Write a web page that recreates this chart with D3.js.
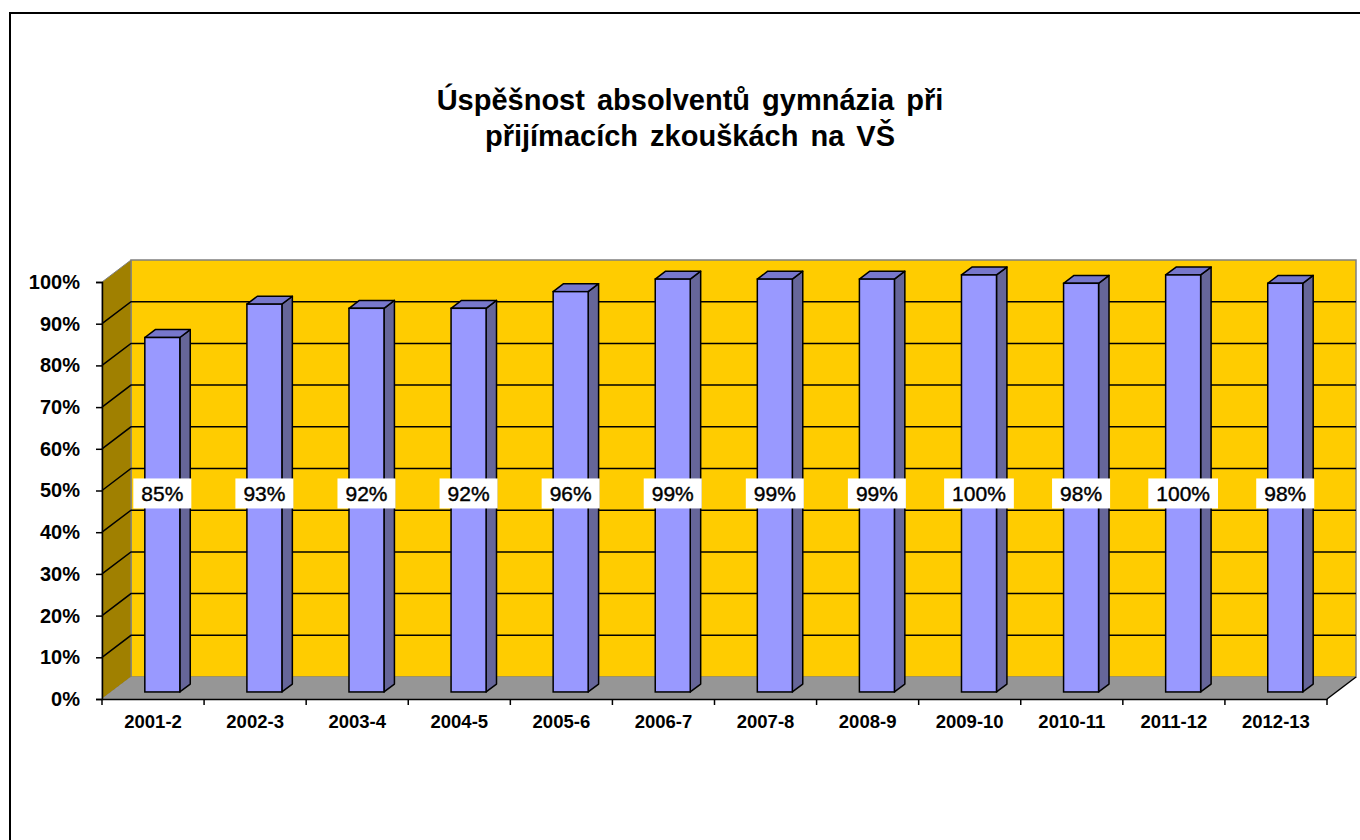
<!DOCTYPE html>
<html>
<head>
<meta charset="utf-8">
<script src="https://cdn.jsdelivr.net/npm/d3@7"></script>
<style>
  body { margin: 0; background: #fff; }
  svg { display: block; font-family: "Liberation Sans", Arial, sans-serif; }
</style>
</head>
<body>
<svg id="chart" width="1360" height="840"></svg>
<script>
// data
const years = ['2001-2', '2002-3', '2003-4', '2004-5', '2005-6', '2006-7',
               '2007-8', '2008-9', '2009-10', '2010-11', '2011-12', '2012-13'];
const success = [0.85, 0.93, 0.92, 0.92, 0.96, 0.99, 0.99, 0.99, 1.00, 0.98, 1.00, 0.98];
const yTicks = [0, 0.1, 0.2, 0.3, 0.4, 0.5, 0.6, 0.7, 0.8, 0.9, 1.0];
const titleLines = ['Úspěšnost absolventů gymnázia při', 'přijímacích zkouškách na VŠ'];

const svg = d3.select('#chart');
const W = 1360, H = 840;

// frame round the chart area
svg.append('rect')
  .attr('x', 10).attr('y', 13)
  .attr('width', W + 20).attr('height', H + 20)
  .attr('fill', '#fff').attr('stroke', '#000').attr('stroke-width', 2);

// title
svg.append('text')
  .attr('x', 690).attr('y', 110)
  .attr('text-anchor', 'middle')
  .attr('font-size', 29).attr('font-weight', 'bold')
  .attr('word-spacing', 4)
  .selectAll('tspan')
  .data(titleLines)
  .join('tspan')
    .attr('x', 690)
    .attr('dy', (d, i) => i === 0 ? 0 : 36)
    .text(d => d);

// scales for the front plane
const x = d3.scaleBand().domain(years).range([102, 1327]);
const y = d3.scaleLinear().domain([0, 1]).range([699, 282]);

// 3D depth offsets
const DX = 29, DY = -22;           // full depth of the box
const fz = 0.32, bz = 0.36;        // bar front position and bar depth as fractions
const barW = 35;

const x0 = x.range()[0], x1 = x.range()[1];
const yTop = y(1), yBot = y(0);
const pts = a => a.map(p => p.join(',')).join(' ');

// back wall
svg.append('polygon')
  .attr('points', pts([[x0 + DX, yTop + DY], [x1 + DX, yTop + DY], [x1 + DX, yBot + DY], [x0 + DX, yBot + DY]]))
  .attr('fill', '#FFCC00').attr('stroke', '#808080').attr('stroke-width', 1.5);

// side wall
svg.append('polygon')
  .attr('points', pts([[x0, yBot], [x0, yTop], [x0 + DX, yTop + DY], [x0 + DX, yBot + DY]]))
  .attr('fill', '#A08000').attr('stroke', '#808080').attr('stroke-width', 1);

// floor
svg.append('polygon')
  .attr('points', pts([[x0, yBot], [x1, yBot], [x1 + DX, yBot + DY], [x0 + DX, yBot + DY]]))
  .attr('fill', '#969696').attr('stroke', 'none');
svg.append('line')
  .attr('x1', x1).attr('y1', yBot).attr('x2', x1 + DX).attr('y2', yBot + DY)
  .attr('stroke', '#000').attr('stroke-width', 1.5);

// gridlines on side wall and back wall
const grid = svg.append('g').attr('stroke', '#000').attr('stroke-width', 1.5).attr('fill', 'none');
yTicks.filter(t => t > 0 && t < 1).forEach(t => {
  grid.append('polyline')
    .attr('points', pts([[x0, y(t)], [x0 + DX, y(t) + DY], [x1 + DX, y(t) + DY]]));
});

// axes
const yAxis = svg.append('g')
  .attr('transform', `translate(${x0},0)`)
  .call(d3.axisLeft(y).tickValues(yTicks).tickFormat(d3.format('.0%')).tickSize(6).tickPadding(16));
yAxis.select('.domain').attr('stroke', '#000').attr('stroke-width', 1.5);
yAxis.selectAll('.tick line').attr('stroke', '#000').attr('stroke-width', 1.5);
yAxis.selectAll('text')
  .attr('font-size', 20).attr('font-weight', 'bold').attr('fill', '#000')
  .attr('font-family', '"Liberation Sans", Arial, sans-serif');

const xAxis = svg.append('g')
  .attr('transform', `translate(0,${yBot})`)
  .call(d3.axisBottom(x).tickSize(0).tickPadding(16));
xAxis.select('.domain').attr('stroke', '#000').attr('stroke-width', 1.5);
xAxis.selectAll('text')
  .attr('font-size', 18.5).attr('font-weight', 'bold').attr('fill', '#000')
  .attr('font-family', '"Liberation Sans", Arial, sans-serif');
// tick marks at category boundaries
xAxis.selectAll('.bound')
  .data(years.map(d => x(d)).concat([x1]))
  .join('line')
    .attr('class', 'bound')
    .attr('x1', d => d).attr('x2', d => d)
    .attr('y1', 0).attr('y2', 6)
    .attr('stroke', '#000').attr('stroke-width', 1.5);

// bars
const bdx = DX * bz, bdy = DY * bz;
const bars = svg.append('g')
  .selectAll('g')
  .data(years.map((c, i) => ({ c, v: success[i] })))
  .join('g')
    .attr('transform', `translate(${DX * fz},${DY * fz})`);

bars.each(function (d) {
  const g = d3.select(this);
  const l = x(d.c) + x.bandwidth() / 2 - barW / 2;
  const r = l + barW;
  const t = y(d.v), b = y(0);
  // side face
  g.append('polygon')
    .attr('points', pts([[r, b], [r, t], [r + bdx, t + bdy], [r + bdx, b + bdy]]))
    .attr('fill', '#666699').attr('stroke', '#000').attr('stroke-width', 1.5).attr('stroke-linejoin', 'round');
  // top face
  g.append('polygon')
    .attr('points', pts([[l, t], [r, t], [r + bdx, t + bdy], [l + bdx, t + bdy]]))
    .attr('fill', '#7777CC').attr('stroke', '#000').attr('stroke-width', 1.5).attr('stroke-linejoin', 'round');
  // front face
  g.append('rect')
    .attr('x', l).attr('y', t).attr('width', barW).attr('height', b - t)
    .attr('fill', '#9999FF').attr('stroke', '#000').attr('stroke-width', 1.5);
});

// data labels
const labelY = y(0.5) + 10;
const fmt = d3.format('.0%');
bars.each(function (d) {
  const g = d3.select(this);
  const cx = x(d.c) + x.bandwidth() / 2;
  const txt = g.append('text')
    .attr('x', cx).attr('y', labelY).attr('dy', '0.36em')
    .attr('text-anchor', 'middle')
    .attr('font-size', 21)
    .attr('stroke', '#000').attr('stroke-width', 0.4)
    .text(fmt(d.v));
  const w = txt.node().getComputedTextLength();
  g.insert('rect', 'text:last-of-type')
    .attr('x', cx - w / 2 - 8).attr('y', labelY - 15)
    .attr('width', w + 16).attr('height', 30)
    .attr('fill', '#fff');
});
</script>
</body>
</html>
